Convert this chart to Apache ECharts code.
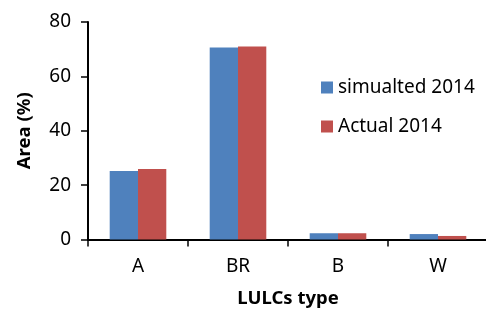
<!DOCTYPE html>
<html>
<head>
<meta charset="utf-8">
<script src="https://cdn.jsdelivr.net/npm/echarts@6/dist/echarts.min.js"></script>
<style>
  html, body { margin: 0; padding: 0; background: #fff; }
  #chart { width: 486px; height: 316px; }
</style>
</head>
<body>
<div id="chart"></div>
<script>
// LULC categories and area shares (%)
var categories = ['A', 'BR', 'B', 'W'];
var simulated2014 = [25.2, 70.6, 2.3, 2.0];
var actual2014 = [25.9, 71.0, 2.3, 1.3];
var yTicks = [0, 20, 40, 60, 80];

var font = 'Noto Sans';
var chart = echarts.init(document.getElementById('chart'));
chart.setOption({
  animation: false,
  textStyle: { fontFamily: font },
  grid: { left: 88, right: -2, top: 22, bottom: 76.5, containLabel: false, outerBoundsMode: 'none' },
  legend: {
    orient: 'vertical',
    left: 316,
    top: 73,
    itemWidth: 12,
    itemHeight: 12,
    itemGap: 20,
    icon: 'rect',
    textStyle: { fontSize: 19, color: '#000', fontFamily: font },
    data: ['simualted 2014', 'Actual 2014']
  },
  xAxis: {
    type: 'category',
    data: categories,
    name: 'LULCs type',
    nameLocation: 'middle',
    nameGap: 50,
    nameTextStyle: { fontSize: 18.5, fontWeight: 'bold', color: '#000', fontFamily: font },
    axisLine: { lineStyle: { color: '#000', width: 2 } },
    axisTick: { show: true, length: 7, lineStyle: { color: '#000', width: 1.5 } },
    axisLabel: { fontSize: 19, color: '#000', margin: 18, fontFamily: font }
  },
  yAxis: {
    type: 'value',
    min: 0,
    max: 80,
    interval: 20,
    name: 'Area (%)',
    nameLocation: 'middle',
    nameGap: 54,
    nameTextStyle: { fontSize: 18.5, fontWeight: 'bold', color: '#000', fontFamily: font },
    splitLine: { show: false },
    axisLine: { show: true, lineStyle: { color: '#000', width: 2 } },
    axisTick: { show: true, length: 7, lineStyle: { color: '#000', width: 1.5 } },
    axisLabel: {
      fontSize: 19, color: '#000', margin: 17, fontFamily: font,
      formatter: function (v) { return yTicks.indexOf(v) >= 0 ? String(v) : ''; }
    }
  },
  series: [
    {
      name: 'simualted 2014',
      type: 'bar',
      data: simulated2014,
      barWidth: 28.3,
      barGap: '0%',
      itemStyle: { color: '#4f81bd' }
    },
    {
      name: 'Actual 2014',
      type: 'bar',
      data: actual2014,
      barWidth: 28.3,
      itemStyle: { color: '#c0504d' }
    }
  ]
});
</script>
</body>
</html>
